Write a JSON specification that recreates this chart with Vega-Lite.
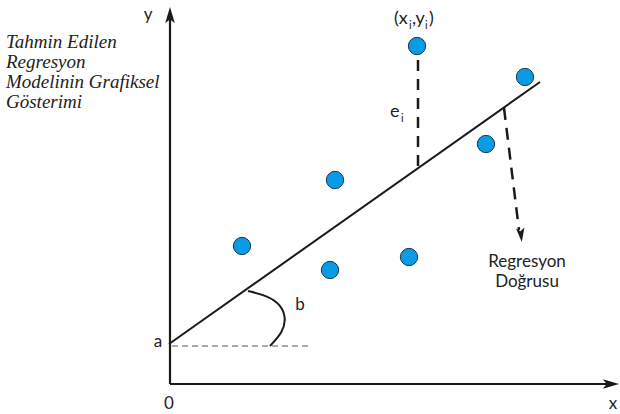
{
  "$schema": "https://vega.github.io/schema/vega-lite/v6.json",
  "autosize": {"type": "none"},
  "width": 620,
  "height": 414,
  "padding": 0,
  "background": "white",
  "config": {"view": {"stroke": null}},
  "datasets": {
    "axes": [
      {"seg": "yaxis", "o": 1, "x": 170, "y": 384},
      {"seg": "yaxis", "o": 2, "x": 170, "y": 14},
      {"seg": "xaxis", "o": 1, "x": 170, "y": 384},
      {"seg": "xaxis", "o": 2, "x": 612, "y": 384}
    ],
    "regline": [
      {"seg": "reg", "o": 1, "x": 169, "y": 344},
      {"seg": "reg", "o": 2, "x": 540, "y": 82}
    ],
    "arc": [
      {"o": 1, "x": 248, "y": 291},
      {"o": 2, "x": 268, "y": 296},
      {"o": 3, "x": 281, "y": 305},
      {"o": 4, "x": 286, "y": 318},
      {"o": 5, "x": 283, "y": 332},
      {"o": 6, "x": 270, "y": 346}
    ],
    "grayline": [
      {"o": 1, "x": 172, "y": 346},
      {"o": 2, "x": 310, "y": 346}
    ],
    "residual": [
      {"o": 1, "x": 418, "y": 60},
      {"o": 2, "x": 418, "y": 168}
    ],
    "pointer": [
      {"o": 1, "x": 504, "y": 108},
      {"o": 2, "x": 519, "y": 230}
    ],
    "arrows": [
      {"x": 170, "y": 15, "angle": 0, "size": 256},
      {"x": 611, "y": 384, "angle": 90, "size": 256},
      {"x": 521, "y": 235, "angle": 173.5, "size": 196}
    ],
    "points": [
      {"x": 242, "y": 246},
      {"x": 335, "y": 180},
      {"x": 330, "y": 270},
      {"x": 409, "y": 257},
      {"x": 417, "y": 46},
      {"x": 486, "y": 144},
      {"x": 525, "y": 77}
    ],
    "serif": [
      {"x": 6, "y": 42, "t": "Tahmin Edilen"},
      {"x": 6, "y": 62, "t": "Regresyon"},
      {"x": 6, "y": 82, "t": "Modelinin Grafiksel"},
      {"x": 6, "y": 102, "t": "Gösterimi"}
    ],
    "labels": [
      {"x": 148, "y": 15, "t": "y"},
      {"x": 613, "y": 404, "t": "x"},
      {"x": 169, "y": 404, "t": "0"},
      {"x": 158, "y": 342, "t": "a"},
      {"x": 300, "y": 305, "t": "b"},
      {"x": 527, "y": 262, "t": "Regresyon"},
      {"x": 527, "y": 282, "t": "Doğrusu"}
    ],
    "subs": [
      {"x": 394, "y": 19, "t": "(x", "s": 18},
      {"x": 409, "y": 26, "t": "i", "s": 11},
      {"x": 412, "y": 19, "t": ",y", "s": 18},
      {"x": 425, "y": 26, "t": "i", "s": 11},
      {"x": 429, "y": 19, "t": ")", "s": 18},
      {"x": 390, "y": 112, "t": "e", "s": 18},
      {"x": 401, "y": 119, "t": "i", "s": 11}
    ]
  },
  "layer": [
    {
      "data": {"name": "axes"},
      "mark": {"type": "line", "color": "#1a1a1a", "strokeWidth": 2.2},
      "encoding": {
        "x": {"field": "x", "type": "quantitative", "scale": {"domain": [0, 620], "nice": false, "zero": false}, "axis": null},
        "y": {"field": "y", "type": "quantitative", "scale": {"domain": [0, 414], "nice": false, "zero": false, "reverse": true}, "axis": null},
        "detail": {"field": "seg"},
        "order": {"field": "o"}
      }
    },
    {
      "data": {"name": "regline"},
      "mark": {"type": "line", "color": "#1a1a1a", "strokeWidth": 2},
      "encoding": {
        "x": {"field": "x", "type": "quantitative"},
        "y": {"field": "y", "type": "quantitative"},
        "order": {"field": "o"}
      }
    },
    {
      "data": {"name": "arc"},
      "mark": {"type": "line", "color": "#1a1a1a", "strokeWidth": 2, "interpolate": "basis"},
      "encoding": {
        "x": {"field": "x", "type": "quantitative"},
        "y": {"field": "y", "type": "quantitative"},
        "order": {"field": "o"}
      }
    },
    {
      "data": {"name": "grayline"},
      "mark": {"type": "line", "color": "#aaaaaa", "strokeWidth": 2, "strokeDash": [6, 4]},
      "encoding": {
        "x": {"field": "x", "type": "quantitative"},
        "y": {"field": "y", "type": "quantitative"},
        "order": {"field": "o"}
      }
    },
    {
      "data": {"name": "residual"},
      "mark": {"type": "line", "color": "#1a1a1a", "strokeWidth": 2.5, "strokeDash": [11, 8]},
      "encoding": {
        "x": {"field": "x", "type": "quantitative"},
        "y": {"field": "y", "type": "quantitative"},
        "order": {"field": "o"}
      }
    },
    {
      "data": {"name": "pointer"},
      "mark": {"type": "line", "color": "#1a1a1a", "strokeWidth": 2.5, "strokeDash": [12, 8]},
      "encoding": {
        "x": {"field": "x", "type": "quantitative"},
        "y": {"field": "y", "type": "quantitative"},
        "order": {"field": "o"}
      }
    },
    {
      "data": {"name": "arrows"},
      "mark": {"type": "point", "shape": "M0,-1L0.6,1L0,0.55L-0.6,1Z", "filled": true, "color": "#1a1a1a", "opacity": 1},
      "encoding": {
        "x": {"field": "x", "type": "quantitative"},
        "y": {"field": "y", "type": "quantitative"},
        "angle": {"field": "angle", "type": "quantitative", "scale": null},
        "size": {"field": "size", "type": "quantitative", "scale": null}
      }
    },
    {
      "data": {"name": "points"},
      "mark": {"type": "point", "shape": "circle", "filled": true, "fill": "#0a9be6", "stroke": "#1c3550", "strokeWidth": 1, "size": 300, "opacity": 1},
      "encoding": {
        "x": {"field": "x", "type": "quantitative"},
        "y": {"field": "y", "type": "quantitative"}
      }
    },
    {
      "data": {"name": "serif"},
      "mark": {"type": "text", "font": "Liberation Serif", "fontStyle": "italic", "fontSize": 19, "align": "left", "baseline": "middle", "color": "#222222"},
      "encoding": {
        "x": {"field": "x", "type": "quantitative"},
        "y": {"field": "y", "type": "quantitative"},
        "text": {"field": "t"}
      }
    },
    {
      "data": {"name": "labels"},
      "mark": {"type": "text", "font": "Lato", "fontSize": 17, "align": "center", "baseline": "middle", "color": "#222222"},
      "encoding": {
        "x": {"field": "x", "type": "quantitative"},
        "y": {"field": "y", "type": "quantitative"},
        "text": {"field": "t"}
      }
    },
    {
      "data": {"name": "subs"},
      "mark": {"type": "text", "font": "Lato", "align": "left", "baseline": "middle", "color": "#222222"},
      "encoding": {
        "x": {"field": "x", "type": "quantitative"},
        "y": {"field": "y", "type": "quantitative"},
        "text": {"field": "t"},
        "size": {"field": "s", "type": "quantitative", "scale": null}
      }
    }
  ]
}
